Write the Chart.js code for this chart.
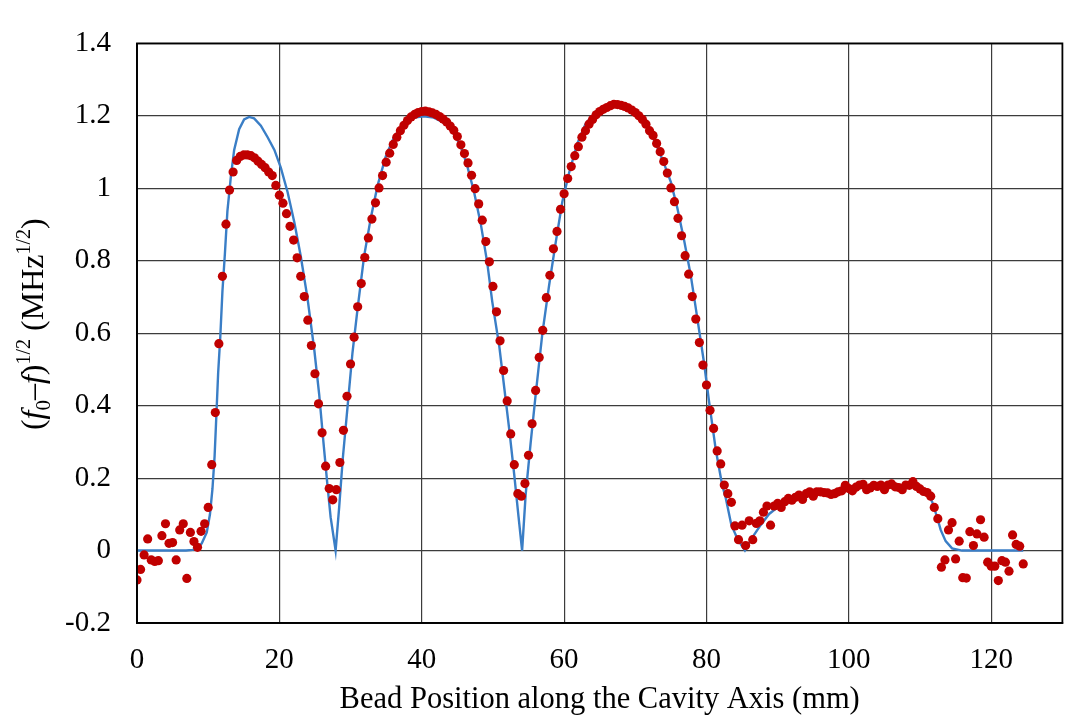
<!DOCTYPE html>
<html>
<head>
<meta charset="utf-8">
<script src="https://cdn.jsdelivr.net/npm/chart.js"></script>
<style>
  html, body { margin: 0; padding: 0; background: #fff; }
  canvas { display: block; }
</style>
</head>
<body>
<canvas id="chart" width="1067" height="721"></canvas>
<script>
// measured bead positions (mm)
const beadPos = [
  0, 0.5, 1, 1.5, 2, 2.5, 3, 3.5, 4, 4.5,
  5, 5.5, 6, 6.5, 7, 7.5, 8, 8.5, 9, 9.5,
  10, 10.5, 11, 11.5, 12, 12.5, 13, 13.5, 14, 14.5,
  15, 15.5, 16, 16.5, 17, 17.5, 18, 18.5, 19, 19.5,
  20, 20.5, 21, 21.5, 22, 22.5, 23, 23.5, 24, 24.5,
  25, 25.5, 26, 26.5, 27, 27.5, 28, 28.5, 29, 29.5,
  30, 30.5, 31, 31.5, 32, 32.5, 33, 33.5, 34, 34.5,
  35, 35.5, 36, 36.5, 37, 37.5, 38, 38.5, 39, 39.5,
  40, 40.5, 41, 41.5, 42, 42.5, 43, 43.5, 44, 44.5,
  45, 45.5, 46, 46.5, 47, 47.5, 48, 48.5, 49, 49.5,
  50, 50.5, 51, 51.5, 52, 52.5, 53, 53.5, 54, 54.5,
  55, 55.5, 56, 56.5, 57, 57.5, 58, 58.5, 59, 59.5,
  60, 60.5, 61, 61.5, 62, 62.5, 63, 63.5, 64, 64.5,
  65, 65.5, 66, 66.5, 67, 67.5, 68, 68.5, 69, 69.5,
  70, 70.5, 71, 71.5, 72, 72.5, 73, 73.5, 74, 74.5,
  75, 75.5, 76, 76.5, 77, 77.5, 78, 78.5, 79, 79.5,
  80, 80.5, 81, 81.5, 82, 82.5, 83, 83.5, 84, 84.5,
  85, 85.5, 86, 86.5, 87, 87.5, 88, 88.5, 89, 89.5,
  90, 90.5, 91, 91.5, 92, 92.5, 93, 93.5, 94, 94.5,
  95, 95.5, 96, 96.5, 97, 97.5, 98, 98.5, 99, 99.5,
  100, 100.5, 101, 101.5, 102, 102.5, 103, 103.5, 104, 104.5,
  105, 105.5, 106, 106.5, 107, 107.5, 108, 108.5, 109, 109.5,
  110, 110.5, 111, 111.5, 112, 112.5, 113, 113.5, 114, 114.5,
  115, 115.5, 116, 116.5, 117, 117.5, 118, 118.5, 119, 119.5,
  120, 120.5, 121, 121.5, 122, 122.5, 123, 123.5, 124, 124.5
];

// measured (f0-f)^1/2 in MHz^1/2
const measured = [
  -0.081, -0.052, -0.012, 0.032, -0.026, -0.030, -0.028, 0.041, 0.074, 0.020,
  0.022, -0.026, 0.057, 0.074, -0.077, 0.050, 0.025, 0.009, 0.053, 0.074,
  0.119, 0.237, 0.381, 0.571, 0.757, 0.901, 0.995, 1.045, 1.077, 1.088,
  1.092, 1.092, 1.090, 1.084, 1.075, 1.066, 1.057, 1.045, 1.035, 1.008,
  0.981, 0.959, 0.930, 0.895, 0.857, 0.808, 0.757, 0.701, 0.636, 0.566,
  0.488, 0.405, 0.325, 0.233, 0.171, 0.140, 0.168, 0.243, 0.332, 0.426,
  0.515, 0.589, 0.673, 0.737, 0.809, 0.863, 0.915, 0.960, 1.001, 1.035,
  1.072, 1.097, 1.121, 1.141, 1.159, 1.174, 1.187, 1.197, 1.204, 1.209,
  1.212, 1.213, 1.211, 1.208, 1.204, 1.198, 1.191, 1.183, 1.172, 1.160,
  1.143, 1.120, 1.096, 1.070, 1.036, 0.999, 0.957, 0.912, 0.853, 0.797,
  0.729, 0.659, 0.579, 0.497, 0.413, 0.322, 0.237, 0.157, 0.150, 0.185,
  0.263, 0.350, 0.442, 0.533, 0.608, 0.698, 0.760, 0.833, 0.881, 0.942,
  0.985, 1.027, 1.060, 1.090, 1.115, 1.141, 1.159, 1.177, 1.190, 1.203,
  1.212, 1.218, 1.223, 1.228, 1.232, 1.231, 1.229, 1.226, 1.222, 1.216,
  1.209, 1.200, 1.190, 1.177, 1.159, 1.146, 1.124, 1.101, 1.074, 1.042,
  1.001, 0.963, 0.917, 0.869, 0.814, 0.763, 0.701, 0.639, 0.574, 0.512,
  0.457, 0.387, 0.337, 0.275, 0.239, 0.181, 0.157, 0.133, 0.068, 0.030,
  0.070, 0.014, 0.082, 0.030, 0.075, 0.082, 0.106, 0.123, 0.070, 0.123,
  0.130, 0.119, 0.135, 0.144, 0.139, 0.147, 0.153, 0.141, 0.157, 0.162,
  0.150, 0.162, 0.162, 0.160, 0.159, 0.155, 0.157, 0.162, 0.165, 0.180,
  0.171, 0.165, 0.175, 0.181, 0.183, 0.168, 0.173, 0.180, 0.177, 0.181,
  0.168, 0.181, 0.184, 0.176, 0.174, 0.168, 0.181, 0.180, 0.190, 0.177,
  0.170, 0.163, 0.160, 0.150, 0.119, 0.088, -0.046, -0.026, 0.057, 0.077,
  -0.023, 0.026, -0.075, -0.076, 0.052, 0.014, 0.046, 0.085, 0.037, -0.032,
  -0.043, -0.043, -0.083, -0.028, -0.032, -0.057, 0.043, 0.017, 0.012, -0.037
];

// simulated field curve
const fitPos = [
  0, 6.9, 7.8, 8.5, 9.1, 9.8, 10.25, 10.6, 10.9, 11.1,
  11.4, 11.7, 12.0, 12.35, 12.7, 13.2, 13.65, 14.35, 15.05, 15.75,
  16.45, 17.4, 18.35, 19.3, 20.2, 21.15, 22.1, 23.0, 23.95, 24.9,
  25.6, 26.2, 26.75, 27.2, 27.9, 28.4, 28.9, 29.57, 30.27, 31.0,
  31.9, 32.85, 33.8, 34.95, 36.1, 37.5, 38.9, 40.3, 41.7, 43.1,
  44.3, 45.5, 46.4, 47.35, 48.3, 49.2, 49.9, 50.9, 51.6, 52.3,
  53.0, 53.6, 54.1, 54.6, 55.3, 56.0, 56.95, 57.9, 58.8, 59.75,
  60.7, 61.85, 63.0, 64.45, 65.85, 67.25, 68.65, 70.05, 71.5, 72.9,
  74.0, 75.0, 75.9, 76.85, 77.8, 78.7, 79.65, 80.35, 81.3, 82.2,
  82.7, 83.5, 84.3, 84.9, 85.4, 86.4, 87.6, 88.8, 89.9, 91.5,
  93.5, 95.5, 98, 100, 103, 106, 109, 110.5, 111.2, 111.7,
  112.4, 112.9, 113.6, 114.5, 115.9, 124.5
];
const fitVal = [
  0, 0, 0.002, 0.006, 0.02, 0.05, 0.1, 0.17, 0.26, 0.35,
  0.49, 0.59, 0.715, 0.82, 0.937, 1.035, 1.106, 1.163, 1.19, 1.197,
  1.193, 1.173, 1.141, 1.106, 1.057, 0.99, 0.906, 0.813, 0.697, 0.555,
  0.43, 0.297, 0.181, 0.092, 0, 0.119, 0.252, 0.395, 0.546, 0.67,
  0.812, 0.919, 1.008, 1.088, 1.141, 1.177, 1.195, 1.199, 1.195, 1.181,
  1.159, 1.115, 1.061, 0.99, 0.901, 0.795, 0.688, 0.563, 0.448, 0.333,
  0.208, 0.093, 0, 0.155, 0.297, 0.43, 0.6, 0.733, 0.848, 0.963,
  1.043, 1.123, 1.177, 1.212, 1.226, 1.228, 1.223, 1.208, 1.177, 1.123,
  1.07, 1.017, 0.946, 0.857, 0.759, 0.643, 0.519, 0.413, 0.279, 0.181,
  0.146, 0.07, 0.035, 0.015, 0, 0.035, 0.07, 0.101, 0.118, 0.135,
  0.148, 0.158, 0.165, 0.17, 0.175, 0.178, 0.178, 0.168, 0.15, 0.135,
  0.092, 0.057, 0.026, 0.006, 0, 0
];

const xTicks = [0, 20, 40, 60, 80, 100, 120];
const yTicks = [-0.2, 0, 0.2, 0.4, 0.6, 0.8, 1, 1.2, 1.4];

const serif = '"Liberation Serif", "Times New Roman", serif';

// box around the plot area
const frame = {
  id: 'frame',
  afterDatasetsDraw(chart) {
    const { ctx, chartArea: a } = chart;
    ctx.save();
    ctx.strokeStyle = '#000';
    ctx.lineWidth = 1.8;
    ctx.strokeRect(a.left, a.top, a.right - a.left, a.bottom - a.top);
    ctx.restore();
  }
};

// y title with italics, subscript and superscripts
const yTitle = {
  id: 'yTitle',
  afterDraw(chart) {
    const ctx = chart.ctx;
    const a = chart.chartArea;
    const parts = [
      ['(', '', 32, 0],
      ['f', 'italic ', 32, 0],
      ['0', '', 21, 7],
      ['\u2013', '', 32, 0],
      ['f', 'italic ', 32, 0],
      [')', '', 32, 0],
      ['1/2', '', 20, -13],
      [' (MHz', '', 32, 0],
      ['1/2', '', 20, -13],
      [')', '', 32, 0]
    ];
    ctx.save();
    ctx.fillStyle = '#000';
    ctx.textBaseline = 'alphabetic';
    ctx.textAlign = 'left';
    let total = 0;
    parts.forEach(p => {
      ctx.font = p[1] + p[2] + 'px ' + serif;
      total += ctx.measureText(p[0]).width;
    });
    ctx.translate(43, (a.top + a.bottom) / 2);
    ctx.rotate(-Math.PI / 2);
    let x = -total / 2 + 9;
    parts.forEach(p => {
      ctx.font = p[1] + p[2] + 'px ' + serif;
      ctx.fillText(p[0], x, p[3]);
      x += ctx.measureText(p[0]).width;
    });
    ctx.restore();
  }
};

new Chart(document.getElementById('chart'), {
  type: 'scatter',
  data: {
    datasets: [
      {
        label: 'Measured',
        data: beadPos.map((x, i) => ({ x: x, y: measured[i] })),
        backgroundColor: '#C00000',
        borderColor: '#C00000',
        pointRadius: 4.6,
        pointBorderWidth: 0,
        showLine: false
      },
      {
        label: 'Simulation',
        data: fitPos.map((x, i) => ({ x: x, y: fitVal[i] })),
        borderColor: '#3A7EC6',
        borderWidth: 2.4,
        pointRadius: 0,
        showLine: true,
        tension: 0,
        fill: false
      }
    ]
  },
  options: {
    responsive: false,
    animation: false,
    devicePixelRatio: 1,
    layout: { padding: { top: 23, right: 4, left: 0, bottom: 0 } },
    plugins: {
      legend: { display: false },
      tooltip: { enabled: false }
    },
    scales: {
      x: {
        type: 'linear',
        min: 0,
        max: 130,
        afterBuildTicks: s => { s.ticks = xTicks.map(v => ({ value: v })); },
        afterFit: s => { s.height = 98; },
        grid: { color: '#3c3c3c', lineWidth: 1.2, drawTicks: false },
        border: { color: '#000', width: 1.8 },
        ticks: {
          color: '#000',
          padding: 20,
          maxRotation: 0,
          font: { family: serif, size: 29 }
        },
        title: {
          display: true,
          text: 'Bead Position along the Cavity Axis (mm)',
          color: '#000',
          font: { family: serif, size: 30.5 },
          padding: { top: 0, bottom: 3 }
        }
      },
      y: {
        min: -0.2,
        max: 1.4,
        afterBuildTicks: s => { s.ticks = yTicks.map(v => ({ value: v })); },
        afterFit: s => { s.width = 137; },
        grid: { color: '#3c3c3c', lineWidth: 1.2, drawTicks: false },
        border: { color: '#000', width: 1.8 },
        ticks: {
          color: '#000',
          padding: 26,
          font: { family: serif, size: 29 },
          callback: v => String(Number(v.toFixed(1)))
        }
      }
    }
  },
  plugins: [frame, yTitle]
});
</script>
</body>
</html>
